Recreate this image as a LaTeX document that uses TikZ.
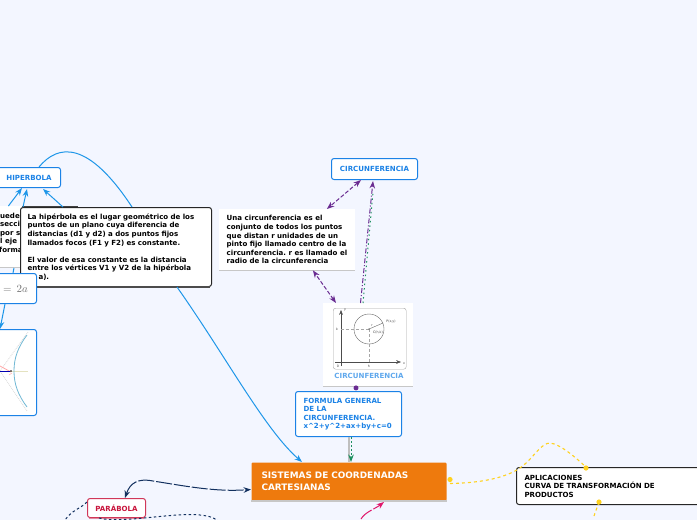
\documentclass[tikz,border=0pt]{standalone}
\usepackage{fontspec}
\setmainfont{DejaVu Sans}
\usetikzlibrary{arrows.meta}
\definecolor{pagebg}{HTML}{F3F6FF}
\definecolor{mainorange}{HTML}{EE7A0D}
\definecolor{boxblue}{HTML}{1B82E6}
\definecolor{linkblue}{HTML}{1E96E8}
\definecolor{linkpurple}{HTML}{6A2C91}
\definecolor{linkgreen}{HTML}{1E9060}
\definecolor{linknavy}{HTML}{12305F}
\definecolor{linkyellow}{HTML}{FFD21F}
\definecolor{linkpink}{HTML}{E0186C}
\definecolor{redtext}{HTML}{C8143C}
\tikzset{
    txt/.style={font=\fontsize{7.05}{8.55}\selectfont\bfseries\frenchspacing, align=left},
    topicbox/.style={txt, anchor=north west, draw=boxblue, line width=1pt, fill=white, rounded corners=2.5pt, inner sep=0pt},
    plainbox/.style={txt, anchor=north west, fill=white, inner sep=0pt},
    purplelink/.style={<->, >=Stealth, line width=1pt, linkpurple, dash pattern=on 4pt off 2pt},
    bluelink/.style={->, >=Stealth, line width=1pt, linkblue},
    navylink/.style={line width=1pt, linknavy, dash pattern=on 2.5pt off 2.5pt},
    yellowlink/.style={line width=1.1pt, linkyellow, dash pattern=on 3pt off 3pt},
    underline/.style={line width=1.6pt, black!22}
}
\begin{document}
\begin{tikzpicture}[x=1pt, y=-1pt]
    \useasboundingbox[fill=pagebg] (0,0) rectangle (697,520);

    % Boxes cut by the left edge
    \node[plainbox, minimum width=45pt, minimum height=61pt, text width=45pt] (hiddenbox) at (-20,206) {};
    \node[anchor=north west, fill=black!75, minimum width=56pt, minimum height=1.5pt, inner sep=0pt] (hiddenbar) at (22,205.5) {};
    \draw[underline] (hiddenbox.south west) -- (hiddenbox.south east);

    % Hiperbola
    \node[topicbox, minimum width=70pt, minimum height=20pt, text width=70pt, text=boxblue, align=center] (hiperbola) at (-10,167) {\hspace*{7pt}HIPERBOLA};
    \node[plainbox, text=black] (hiddentext) at (-1,212.5) {\hspace*{1pt}uede\\\hspace*{1pt}secci\\\hspace*{1pt}por s\\\hspace*{1pt}l eje\\forma};
    \node[topicbox, draw=black!85, minimum width=191pt, minimum height=79pt, text width=177pt] (hipdef) at (20,207) {La hipérbola es el lugar geométrico de los\\puntos de un plano cuya diferencia de\\distancias (d1 y d2) a dos puntos fijos\\llamados focos (F1 y F2) es constante.\\[8.55pt]El valor de esa constante es la distancia\\entre los vértices V1 y V2 de la hipérbola\\\hspace*{11pt}a).};
    \draw[line width=1.2pt, black!70] ([xshift=2pt]hipdef.south west) -- ([xshift=-2pt]hipdef.south east);
    \node[topicbox, minimum width=56pt, minimum height=30pt, text=black!55, font=\fontsize{11}{11}\selectfont] (hipformula) at (-20,273) {\hspace*{14pt}$=\,2a$};
    \node[topicbox, minimum width=56pt, minimum height=86pt] (hipimage) at (-20,329) {};

    % Hyperbola sketch
    \draw[gray!30, densely dotted, thick] (hipimage.north east) ++(-9,3) -- (0,371) -- (27,411);
    \draw[yellow!40!gray!40] (0,371) -- (28,371);
    \draw[cyan!50!teal!65, line width=0.8pt] (27,335) .. controls (18,347) and (14,358) .. (14,371) .. controls (14,384) and (18,395) .. (27,407);
    \draw[red!35, line width=0.8pt] (0,366) -- (11,372);
    \draw[blue!70!black] (0,371) -- (10,371);
    \fill[black] (11,371) circle (0.8pt);
    \draw[red!40] (9,375) -- (12,373);

    % Links round the hiperbola boxes
    \draw[bluelink] (hiddenbox.north east) ++(-17,0) -- ([xshift=-39pt]hiperbola.south east);
    \draw[bluelink] ([xshift=3pt]hipdef.north west) -- ([xshift=-34pt,yshift=-1pt]hiperbola.south east);
    \draw[bluelink] ([xshift=43pt]hipdef.north west) -- ([xshift=-18pt,yshift=-1pt]hiperbola.south east);
    \draw[linkblue, line width=1pt] (hipformula.north east) ++(-24,0) -- ++(1,-5);
    \draw[bluelink] ([xshift=25pt]hipformula.south west) -- ([xshift=20pt]hipimage.north west);

    % Circunferencia
    \node[topicbox, minimum width=86pt, minimum height=21pt, text=boxblue, align=center] (circtitle) at (331,158) {CIRCUNFERENCIA};
    \node[plainbox, minimum width=134pt, minimum height=61pt, inner xsep=7.5pt] (circdef) at (219,209) {Una circunferencia es el\\conjunto de todos los puntos\\que distan r unidades de un\\pinto fijo llamado centro de la\\circunferencia. r es llamado el\\radio de la circunferencia};
    \draw[underline] (circdef.south west) -- (circdef.south east);

    % Picture of the circle
    \node[plainbox, minimum width=90pt, minimum height=83pt] (circimage) at (323,303) {};
    \draw[underline] (circimage.south west) -- (circimage.south east);
    \node[anchor=north west, draw=black!35, rounded corners=2.5pt, minimum width=73pt, minimum height=61pt, inner sep=0pt] (circframe) at (333,308) {};
    \node[txt, text=boxblue!70] (circcaption) at (369,376) {CIRCUNFERENCIA};
    \draw[->, >=Stealth, black!70] (341,366) -- (341,310);
    \draw[->, >=Stealth, black!70] (335,362) -- (401,362);
    \draw[black!60] (369,329) circle (15pt);
    \draw[black!35, densely dashed] (341,329) -- (369,329) (369,329) -- (369,362);
    \draw[black!60] (369,329) -- (383,323);
    \fill[black!70] (369,329) circle (0.6pt);
    \foreach \px/\py/\lab in {391/322/{P(x,y)}, 378/332/{C(h,k)}, 372/326/r, 337/329/k, 369/366/h, 338/366/0, 404/364/x, 345/310/y}
        \node[font=\fontsize{3.2}{3.2}\selectfont, inner sep=0pt, text=black!75] at (\px,\py) {\lab};

    % Formula
    \node[topicbox, minimum width=106pt, minimum height=45pt, text width=90pt, text=boxblue] (formula) at (295,391) {FORMULA GENERAL\\DE LA\\CIRCUNFERENCIA.\\x\textasciicircum2+y\textasciicircum2+ax+by+c=0};

    % Main topic
    \node[topicbox, draw=none, fill=mainorange, text=white, minimum width=195pt, minimum height=38pt, text width=175pt, font=\fontsize{8.9}{11.5}\selectfont\bfseries, rounded corners=1pt] (sistemas) at (251,462) {SISTEMAS DE COORDENADAS\\CARTESIANAS};
    \draw[underline] (sistemas.south west) -- (sistemas.south east);

    % Parabola and applications
    \node[topicbox, draw=redtext!85, minimum width=58pt, minimum height=19pt, text=redtext, align=center] (parabola) at (87,498) {PARÁBOLA};
    \draw[line width=1pt, redtext!50] ([xshift=2pt]parabola.south west) -- ([xshift=-2pt]parabola.south east);
    \node[topicbox, draw=black!85, minimum width=190pt, minimum height=37pt, text width=174pt] (aplicaciones) at (516,467) {APLICACIONES\\CURVA DE TRANSFORMACIÓN DE\\PRODUCTOS};

    % Links
    \draw[purplelink] ([xshift=30pt]circtitle.south west) -- ([xshift=-28pt]circdef.north east);
    \draw[purplelink] ([xshift=13pt]circimage.north west) -- ([xshift=-42pt]circdef.south east);
    \draw[->, >=Stealth, line width=1pt, linkpurple, dash pattern=on 5pt off 2pt on 1pt off 2pt] ([xshift=37.5pt]circimage.north west) -- ([xshift=-45pt,yshift=-1pt]circtitle.south east);
    \draw[linkgreen, line width=1pt, dash pattern=on 1.5pt off 3pt] ([xshift=40pt]circimage.north west) -- ([xshift=-45pt,yshift=-12pt]circtitle.south east);
    \fill[linkpurple] ([xshift=33pt,yshift=-1.5pt]circimage.south west) circle (2.5pt);
    \draw[black!25, line width=1.2pt] ([xshift=54pt]formula.south west) -- ([xshift=98pt]sistemas.north west);
    \draw[->, >=Stealth, line width=1pt, linkgreen, dash pattern=on 2pt off 2pt] ([xshift=56pt]formula.south west) -- ([xshift=100pt]sistemas.north west);
    \draw[bluelink] (hipdef.south east) ++(-35,0) .. controls (225,355) and (265,430) .. ([xshift=51pt]sistemas.north west);
    \draw[linkblue, line width=1pt] (hiperbola.north east) ++(-22,0) .. controls (58,144) and (88,140) .. ([xshift=112pt]hipdef.north west);
    \draw[<->, >=Stealth, line width=1pt, linknavy, dash pattern=on 16pt off 2pt] ([xshift=38pt]parabola.north west) .. controls (130,483) and (138,478) .. (153,481) .. controls (185,486) and (215,492) .. ([yshift=-8pt]sistemas.west);
    \draw[navylink] ([yshift=6pt]parabola.west) .. controls (80,509) and (72,510) .. (65,520);
    \draw[navylink] ([xshift=12pt]parabola.south west) .. controls (120,524) and (175,512) .. (200,515) .. controls (210,516) and (216,518) .. (222,524);
    \draw[->, >=Stealth, line width=1pt, linkpink, dash pattern=on 14pt off 2pt] (361,519) .. controls (365,512) and (375,509) .. ([xshift=133pt,yshift=-1pt]sistemas.south west);

    % Yellow links with their end dots
    \draw[yellowlink] (sistemas.east) ++(3,2) .. controls (480,483) and (510,478) .. (525,464) .. controls (535,455) and (542,443) .. (550,443) .. controls (560,444) and (575,457) .. ([xshift=70pt]aplicaciones.north west);
    \fill[linkyellow] ([xshift=3pt,yshift=2pt]sistemas.east) circle (2.6pt);
    \fill[linkyellow] ([xshift=70pt,yshift=-1pt]aplicaciones.north west) circle (2.6pt);
    \fill[linkyellow] ([xshift=83pt,yshift=3pt]aplicaciones.south west) circle (2.6pt);
    \draw[yellowlink] ([xshift=83pt,yshift=3pt]aplicaciones.south west) -- ++(-5,14);
\end{tikzpicture}
\end{document}
